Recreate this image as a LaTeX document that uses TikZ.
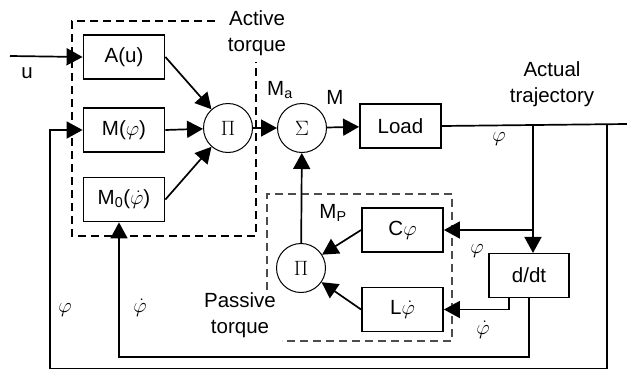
\documentclass[tikz,border=0pt]{standalone}
\usepackage{fontspec}
\setmainfont{Liberation Sans}
\usetikzlibrary{arrows.meta, positioning, calc}

\begin{document}
\begin{tikzpicture}[x=1pt, y=-1pt,
    every node/.style={font=\fontsize{20.5}{26}\selectfont},
    bloque/.style={rectangle, draw, line width=1.8pt, minimum width=81pt, minimum height=44pt, inner sep=0pt},
    nudo/.style={circle, draw, line width=1pt, minimum size=49pt, inner sep=0pt, font=\fontsize{22}{24}\selectfont},
    flecha/.style={-{Triangle[length=16pt, width=17pt]}, line width=1.7pt},
    linea/.style={line width=1.7pt},
    zona/.style={line width=1.1pt, dash pattern=on 8pt off 5pt},
    etiq/.style={inner sep=0pt, align=center}]
  \useasboundingbox (0,0) rectangle (627,370);

  % bloques del par activo
  \node[bloque] (A) at (124,57) {A(u)};
  \node[bloque] (Mphi) at (124,130) {M($\varphi$)};
  \node[bloque] (Mnull) at (124,199.5) {M\textsubscript{0}($\dot{\varphi}$)};
  \node[nudo] (PiA) at (228,128) {$\Pi$};
  \node[nudo] (Sum) at (302,128) {$\Sigma$};
  \node[bloque] (Load) at (400.5,126) {Load};

  % bloques del par pasivo
  \node[nudo] (PiP) at (301,268) {$\Pi$};
  \node[bloque] (C) at (402.5,230) {C$\varphi$};
  \node[bloque] (L) at (402.5,309.5) {L$\dot{\varphi}$};
  \node[bloque, line width=1.1pt, minimum width=80pt] (ddt) at (529,275.5) {d/dt};

  \coordinate (uin) at (10,56);
  \coordinate (b1) at (533,124);
  \coordinate (b2) at (607,124);
  \coordinate (out) at (627,124);

  % zonas
  \draw[zona] (215,21) -- (72,21) -- (72,236) -- (256,236) -- (256,62);
  \draw[zona, gray!60!black] (267,290) -- (267,194) -- (452,194) -- (452,341) -- (282,341);

  % conexiones
  \draw[flecha] (uin) -- (A.west);
  \draw[flecha] (A.east) -- (PiA);
  \draw[flecha] (Mphi.east) -- (PiA);
  \draw[flecha] (Mnull.east) -- (PiA);
  \draw[flecha] (PiA) -- (Sum);
  \draw[flecha] (Sum) -- (Load);
  \draw[linea] (Load.east) -- (out);
  \draw[flecha] (b1) -- (b1 |- ddt.north);
  \draw[flecha] (C.east -| b1) -- (C.east);
  \draw[flecha] ([xshift=-20pt]ddt.south) |- (L.east);
  \draw[flecha] (ddt.south) -- ++(0,59) -| ([xshift=-5pt]Mnull.south);
  \draw[flecha] (b2) -- (607,368.5) -- (50,368.5) |- (Mphi.west);
  \draw[flecha] (C.west) -- (PiP);
  \draw[flecha] (L.west) -- (PiP);
  \draw[flecha] (PiP) -- (Sum);

  % etiquetas
  \node[etiq] (lu) at (27,73) {u};
  \node[etiq] (lact) at (257,33) {Active\\torque};
  \node[etiq] (lMa) at (280,90) {M\textsubscript{a}};
  \node[etiq] (lM) at (335,97) {M};
  \node[etiq] (ltraj) at (552,84) {Actual\\trajectory};
  \node[etiq] (lphi1) at (499,139) {$\varphi$};
  \node[etiq] (lMp) at (333,213) {M\textsubscript{P}};
  \node[etiq] (lphi2) at (477,251) {$\varphi$};
  \node[etiq] (ldphi1) at (483,330) {$\dot{\varphi}$};
  \node[etiq] (lpas) at (240,315) {Passive\\torque};
  \node[etiq] (lphi3) at (65,310) {$\varphi$};
  \node[etiq] (ldphi2) at (140,308) {$\dot{\varphi}$};
\end{tikzpicture}
\end{document}
